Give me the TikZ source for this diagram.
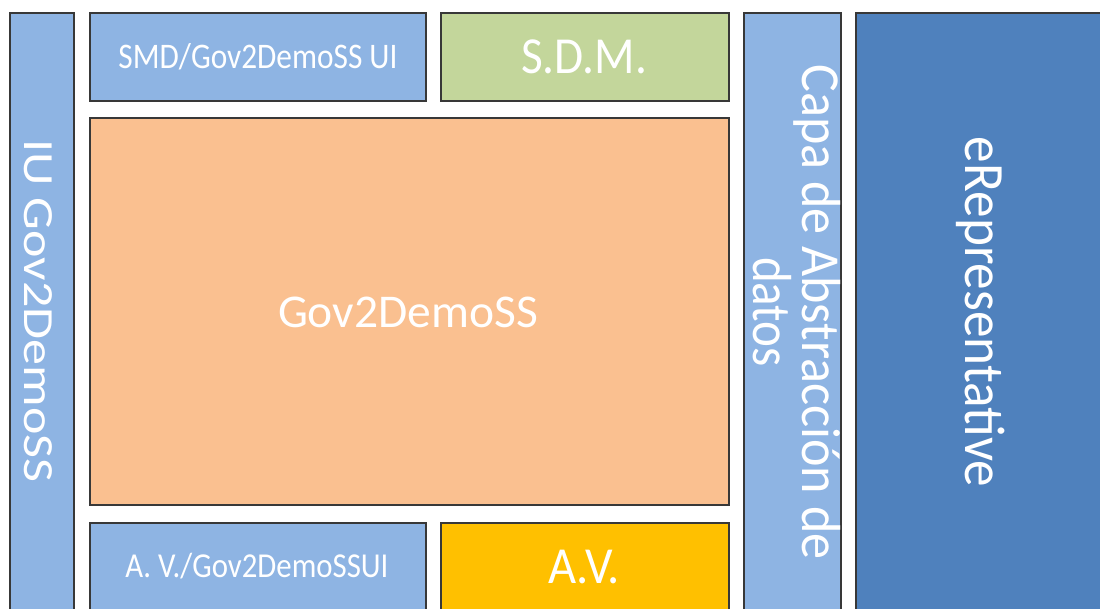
\documentclass[tikz,border=0pt]{standalone}
\usepackage{fontspec}
\setmainfont{Carlito}
\usepackage{graphicx}
\definecolor{lblue}{HTML}{8EB4E3}
\definecolor{dblue}{HTML}{4F81BD}
\definecolor{lgreen}{HTML}{C3D69B}
\definecolor{peach}{HTML}{FAC090}
\definecolor{gold}{HTML}{FFC000}
\newcommand{\fitw}[3]{\resizebox{#1pt}{\height}{\fontsize{#2}{#2}\selectfont #3}}
\begin{document}
\begin{tikzpicture}[x=1pt,y=-1pt,
  box/.style={draw=black!78, line width=1.3pt},
  txt/.style={text=white, inner sep=0pt, anchor=base}]
\useasboundingbox (0,0) rectangle (1100,608);
\clip (0,0) rectangle (1100,608);
\fill[white] (0,0) rectangle (1100,608);
% boxes
\path[box, fill=lblue]  (10,13)  rectangle (74,625);
\path[box, fill=lblue]  (90,13)  rectangle (426,101);
\path[box, fill=lgreen] (441,13) rectangle (729,101);
\path[box, fill=lblue]  (744,13) rectangle (841,625);
\path[box, fill=dblue]  (856,13) rectangle (1120,625);
\path[box, fill=peach]  (90,118) rectangle (729,505);
\path[box, fill=lblue]  (90,523) rectangle (426,625);
\path[box, fill=gold]   (441,523) rectangle (729,625);
% texts
\node[txt] (smdui) at (258,68) {\fitw{279}{36}{SMD/Gov2DemoSS UI}};
\node[txt] (sdm) at (584,73) {\fitw{126}{52}{S.D.M.}};
\node[txt] (gov) at (408,327) {\fitw{260}{47}{Gov2DemoSS}};
\node[txt] (avui) at (257,577) {\fitw{263}{35}{A. V./Gov2DemoSSUI}};
\node[txt] (av) at (584,583) {\fitw{72}{52}{A.V.}};
\node[txt, rotate=-90] (iu) at (24,311) {\fitw{343}{43}{IU Gov2DemoSS}};
\node[txt, rotate=-90] (capa1) at (802,312) {\fitw{495}{55}{Capa de Abstracción de}};
\node[txt, rotate=-90] (capa2) at (753,312) {\fitw{110}{55}{datos}};
\node[txt, rotate=-90] (erep) at (965,312) {\fitw{350}{57}{eRepresentative}};
\end{tikzpicture}
\end{document}
